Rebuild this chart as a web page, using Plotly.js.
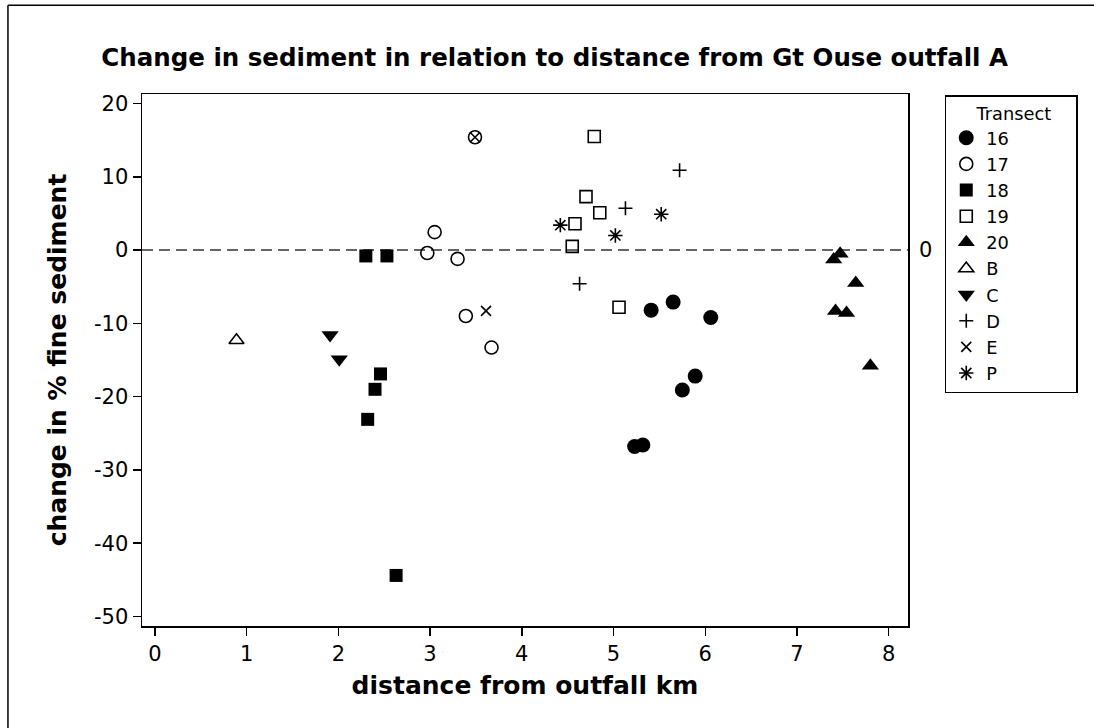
<!DOCTYPE html>
<html>
<head>
<meta charset="utf-8">
<script src="https://cdn.plot.ly/plotly-3.0.1.min.js"></script>
<style>html,body{margin:0;padding:0;background:#fff;}#chart{width:1094px;height:728px;}</style>
</head>
<body>
<div id="chart"></div>
<script>
// Transect series (distance from outfall km, change in % fine sediment)
const t16_x = [5.41, 5.65, 6.06, 5.89, 5.75, 5.23, 5.32];
const t16_y = [-8.2, -7.1, -9.2, -17.2, -19.1, -26.8, -26.6];
const t17_x = [3.49, 3.05, 2.97, 3.30, 3.39, 3.67];
const t17_y = [15.4, 2.45, -0.4, -1.2, -9.0, -13.3];
const t18_x = [2.30, 2.53, 2.46, 2.40, 2.32, 2.63];
const t18_y = [-0.8, -0.8, -16.9, -19.0, -23.1, -44.4];
const t19_x = [4.79, 4.70, 4.85, 4.58, 4.55, 5.06];
const t19_y = [15.5, 7.3, 5.1, 3.6, 0.5, -7.8];
const t20_x = [7.47, 7.40, 7.64, 7.42, 7.54, 7.80];
const t20_y = [-0.5, -1.3, -4.5, -8.3, -8.6, -15.8];
const tB_x = [0.89];
const tB_y = [-12.3];
const tC_x = [1.91, 2.01];
const tC_y = [-11.6, -14.9];
const tD_x = [5.72, 5.13, 4.63];
const tD_y = [10.9, 5.7, -4.6];
const tE_x = [3.49, 3.61];
const tE_y = [15.4, -8.3];
const tP_x = [4.42, 5.02, 5.52];
const tP_y = [3.4, 2.0, 4.9];

const seriesNames = ["16", "17", "18", "19", "20", "B", "C", "D", "E", "P"];
const xTickVals = [0, 1, 2, 3, 4, 5, 6, 7, 8];
const xTickText = ["0", "1", "2", "3", "4", "5", "6", "7", "8"];
const yTickVals = [-50, -40, -30, -20, -10, 0, 10, 20];
const yTickText = ["-50", "-40", "-30", "-20", "-10", "0", "10", "20"];
const refLineValue = 0;

const FONT = "DejaVu Sans, Verdana, sans-serif";

const seriesData = [
  [t16_x, t16_y], [t17_x, t17_y], [t18_x, t18_y], [t19_x, t19_y], [t20_x, t20_y],
  [tB_x, tB_y], [tC_x, tC_y], [tD_x, tD_y], [tE_x, tE_y], [tP_x, tP_y]
];
const markerStyles = [
  {symbol: "circle", size: 15, color: "#000", line: {width: 0}},
  {symbol: "circle-open", size: 13, color: "#000", line: {width: 1.6, color: "#000"}},
  {symbol: "square", size: 13, color: "#000", line: {width: 0}},
  {symbol: "square-open", size: 12, color: "#000", line: {width: 1.6, color: "#000"}},
  {symbol: "triangle-up", size: 15, color: "#000", line: {width: 0}},
  {symbol: "triangle-up-open", size: 13, color: "#000", line: {width: 1.6, color: "#000"}},
  {symbol: "triangle-down", size: 15, color: "#000", line: {width: 0}},
  {symbol: "cross-thin-open", size: 10, color: "#000", line: {width: 1.6, color: "#000"}},
  {symbol: "x-thin-open", size: 10, color: "#000", line: {width: 1.6, color: "#000"}},
  {symbol: "asterisk-open", size: 12, color: "#000", line: {width: 1.6, color: "#000"}}
];

const traces = seriesNames.map((name, i) => ({
  type: "scatter",
  mode: "markers",
  name: name,
  x: seriesData[i][0],
  y: seriesData[i][1],
  marker: markerStyles[i],
  cliponaxis: false
}));

const layout = {
  width: 1094,
  height: 728,
  paper_bgcolor: "#fff",
  plot_bgcolor: "#fff",
  margin: {l: 142, r: 186, t: 94, b: 102, pad: 0},
  font: {family: FONT, color: "#000", size: 21},
  title: {
    text: "<b>Change in sediment in relation to distance from Gt Ouse outfall A</b>",
    font: {family: FONT, size: 24.5, color: "#000"},
    x: 0.507, xanchor: "center",
    y: 0.921, yanchor: "middle", yref: "container"
  },
  xaxis: {
    range: [-0.14, 8.21],
    tickmode: "array", tickvals: xTickVals, ticktext: xTickText,
    ticks: "outside", ticklen: 8, tickwidth: 1.5, tickcolor: "#000",
    showline: true, linecolor: "#000", linewidth: 1.5, mirror: true,
    showgrid: false, zeroline: false,
    tickfont: {family: FONT, size: 21, color: "#000"},
    title: {text: "<b>distance from outfall km</b>", font: {family: FONT, size: 25, color: "#000"}, standoff: 12},
    automargin: false
  },
  yaxis: {
    range: [-51.3, 21.3],
    tickmode: "array", tickvals: yTickVals, ticktext: yTickText,
    ticks: "outside", ticklen: 8, tickwidth: 1.5, tickcolor: "#000",
    showline: true, linecolor: "#000", linewidth: 1.5, mirror: true,
    showgrid: false, zeroline: false,
    tickfont: {family: FONT, size: 21, color: "#000"},
    title: {text: "<b>change in % fine sediment</b>", font: {family: FONT, size: 25, color: "#000"}, standoff: 20},
    automargin: false
  },
  legend: {
    title: {text: "\u00a0\u00a0\u00a0\u00a0\u00a0Transect\u00a0\u00a0\u00a0\u00a0", font: {family: FONT, size: 17.8, color: "#000"}},
    font: {family: FONT, size: 17.8, color: "#000"},
    x: 1.048, xanchor: "left",
    y: 0.998, yanchor: "top",
    bordercolor: "#000", borderwidth: 1.5,
    bgcolor: "#fff",
    tracegroupgap: 0
  },
  shapes: [
    {type: "line", xref: "paper", yref: "y", x0: 0, x1: 1, y0: refLineValue, y1: refLineValue,
     line: {color: "#333", width: 1.5, dash: "11px,6px"}, layer: "below"},
    {type: "line", xref: "paper", yref: "paper", x0: -0.175, x1: -0.175, y0: -0.3, y1: 1.167,
     line: {color: "#000", width: 1.5}},
    {type: "line", xref: "paper", yref: "paper", x0: -0.175, x1: 1.5, y0: 1.167, y1: 1.167,
     line: {color: "#000", width: 1.5}}
  ],
  annotations: [
    {xref: "paper", yref: "y", x: 1.0222, y: refLineValue, text: String(refLineValue),
     showarrow: false, xanchor: "center", yanchor: "middle",
     font: {family: FONT, size: 21, color: "#000"}}
  ]
};

Plotly.newPlot("chart", traces, layout, {displayModeBar: false, staticPlot: true});
</script>
</body>
</html>
